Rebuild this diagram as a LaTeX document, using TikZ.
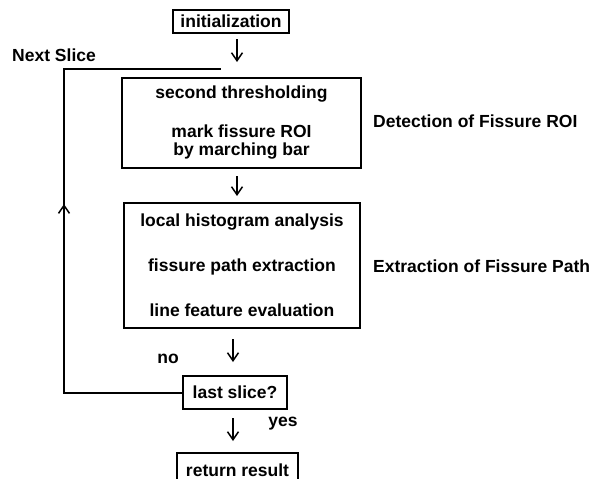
\documentclass[tikz,border=0pt]{standalone}
\usepackage{fontspec}
\setmainfont{Liberation Sans}
\usetikzlibrary{arrows.meta,decorations.markings}
\newcommand{\chartfont}{\fontsize{17.5}{18}\selectfont\bfseries}
\tikzset{stepbox/.style={draw=black, line width=2pt, inner sep=0pt, font=\chartfont, align=center},
  flow/.style={line width=1.5pt, -{Straight Barb[length=8pt,width=11pt]}},
  loopline/.style={line width=2pt},
  lbl/.style={font=\chartfont, inner sep=0pt},}

\begin{document}
\begin{tikzpicture}[x=1pt,y=-1pt]
\useasboundingbox (0,0) rectangle (592,479);
\clip (0,0) rectangle (592,479);
\node [stepbox, minimum width=116pt, minimum height=23pt] (init) at (231,21.5) {initialization};
\node [stepbox, minimum width=239pt, minimum height=90pt] (roi) at (241.5,123) {second thresholding\\[21pt]mark fissure ROI\\by marching bar};
\node [stepbox, minimum width=236pt, minimum height=125pt] (path) at (242,265.5) {local histogram analysis\\[27pt]fissure path extraction\\[27pt]line feature evaluation};
\node [stepbox, minimum width=104pt, minimum height=33pt] (last) at (235,392.5) {last slice?};
\node [stepbox, minimum width=121pt, minimum height=34pt] (result) at (237.5,470) {return result};
\node [lbl, anchor=west] (nexttxt) at (12,55) {Next Slice};
\node [lbl] (notxt) at (168,359) {no};
\node [lbl] (yestxt) at (283,424) {yes};
\node [lbl, anchor=west] (roitxt) at (373,121) {Detection of Fissure ROI};
\node [lbl, anchor=west] (pathtxt) at (373,266) {Extraction of Fissure Path};
\coordinate (colA) at (237,0);
\coordinate (colB) at (233,0);
\coordinate (turn) at (64,69);
\coordinate (nextend) at (221,69);
\draw[flow, shorten <=5pt, shorten >=15pt] (init.south -| colA) -- (roi.north -| colA);
\draw[flow, shorten <=7pt, shorten >=6pt] (roi.south -| colA) -- (path.north -| colA);
\draw[flow, shorten <=10pt, shorten >=13pt] (path.south -| colB) -- (last.north -| colB);
\draw[flow, shorten <=8pt, shorten >=11pt] (last.south -| colB) -- (result.north -| colB);
% loop back to the next slice
\draw[loopline, postaction={decorate}, decoration={markings, mark=at position 0.512 with {\arrow[line width=1.5pt]{Straight Barb[length=8pt,width=11pt]}}}] (last.west) -| (turn) -- (nextend);
\end{tikzpicture}
\end{document}
